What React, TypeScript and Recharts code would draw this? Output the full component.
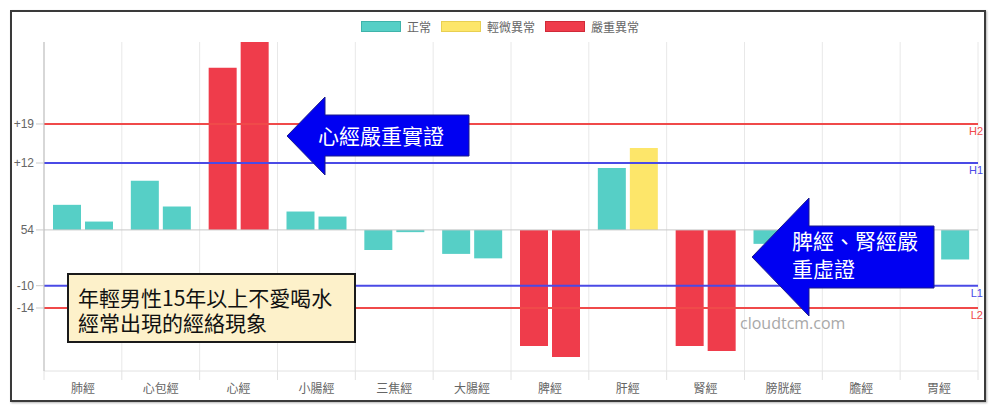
import { BarChart, Bar, XAxis, YAxis, CartesianGrid, ReferenceLine, Cell } from 'recharts'

// 十二經絡，每條經絡左右兩側數值（相對於平均值 54 的偏差）
const meridians = ['肺經', '心包經', '心經', '小腸經', '三焦經', '大腸經', '脾經', '肝經', '腎經', '膀胱經', '膽經', '胃經']
const leftValues = [4.5, 8.8, 29.1, 3.3, -3.6, -4.3, -20.8, 11.1, -20.8, -2.5, -3, 0]
const rightValues = [1.5, 4.2, 33.7, 2.4, -0.4, -5.1, -22.8, 14.7, -21.7, -2, -2, -5.3]
const leftStatus = ['normal', 'normal', 'severe', 'normal', 'normal', 'normal', 'severe', 'normal', 'severe', 'normal', 'normal', 'normal']
const rightStatus = ['normal', 'normal', 'severe', 'normal', 'normal', 'normal', 'severe', 'mild', 'severe', 'normal', 'normal', 'normal']

const yTicks = [19, 12, 0, -10, -14]
const yTickLabels = ['+19', '+12', '54', '-10', '-14']

const limitValues = [19, 12, -10, -14]
const limitNames = ['H2', 'H1', 'L1', 'L2']
const limitKinds = ['severe', 'mild', 'mild', 'severe']

const legendKeys = ['normal', 'mild', 'severe']
const legendNames = ['正常', '輕微異常', '嚴重異常']

const statusColors: Record<string, string> = {
  normal: '#56cfc6',
  mild: '#fde66a',
  severe: '#ef3c4b',
}
const legendBorders: Record<string, string> = {
  normal: '#3fb3aa',
  mild: '#e8cf52',
  severe: '#d02a38',
}
const limitColors: Record<string, string> = {
  severe: '#f04a4a',
  mild: '#4a4ae6',
}

const data = meridians.map((name, i) => ({
  name,
  left: leftValues[i],
  right: rightValues[i],
}))

const CJK = '"Noto Sans CJK TC", "Liberation Sans", sans-serif'

function MeridianTick(props: any) {
  const { x, y, payload, index } = props
  const half = payload?.offset ?? 0
  const axisY = y - 13
  return (
    <g>
      <line x1={x - half} x2={x - half} y1={axisY} y2={axisY + 9} stroke="#e2e2e2" />
      {index === meridians.length - 1 && (
        <line x1={x + half} x2={x + half} y1={axisY} y2={axisY + 9} stroke="#e2e2e2" />
      )}
      <text x={x} y={y} dy="0.71em" textAnchor="middle" fontSize={12} fill="#666" fontFamily={CJK}>
        {payload.value}
      </text>
    </g>
  )
}

function limitLabel(name: string, color: string) {
  return (props: any) => {
    const vb = props.viewBox || {}
    return (
      <text
        x={vb.x + vb.width + 5}
        y={vb.y + 11}
        textAnchor="end"
        fontSize={11}
        fill={color}
        fontFamily='"Liberation Sans", sans-serif'
      >
        {name}
      </text>
    )
  }
}

export default function App() {
  return (
    <div style={{ position: 'absolute', left: 0, top: 0, width: 1000, height: 417, background: '#fff', fontFamily: CJK }}>
      <div
        style={{
          position: 'absolute',
          left: 10,
          top: 10,
          width: 976,
          height: 392,
          border: '2px solid #3a3a3a',
          boxSizing: 'border-box',
          boxShadow: '1px 1px 2px rgba(0,0,0,0.3)',
        }}
      />

      <div style={{ position: 'absolute', left: 0, top: 0 }}>
        <BarChart
          width={1000}
          height={417}
          data={data}
          margin={{ top: 42, right: 22, bottom: 16, left: 10 }}
          barGap={4}
        >
          <CartesianGrid
            horizontal={false}
            stroke="#e8e8e8"
            verticalCoordinatesGenerator={({ offset }: any) =>
              meridians.map((_, i) => offset.left + (i * offset.width) / meridians.length).concat(offset.left + offset.width)
            }
          />
          <XAxis
            dataKey="name"
            height={30}
            interval={0}
            axisLine={{ stroke: '#e2e2e2' }}
            tickLine={false}
            tickSize={6}
            tickMargin={7}
            tick={<MeridianTick />}
          />
          <YAxis
            width={34}
            domain={[-25.3, 33.7]}
            allowDataOverflow
            ticks={yTicks}
            interval={0}
            tickFormatter={(v: number) => yTickLabels[yTicks.indexOf(v)] ?? String(v)}
            tick={{ fontSize: 12, fill: '#666', fontFamily: '"Liberation Sans", sans-serif' }}
            axisLine={{ stroke: '#bbb' }}
            tickLine={{ stroke: '#ccc' }}
            tickSize={8}
            tickMargin={2}
          />
          <ReferenceLine y={0} stroke="#c8c8c8" />
          <Bar dataKey="left" barSize={28} isAnimationActive={false}>
            {data.map((d, i) => (
              <Cell key={d.name} fill={statusColors[leftStatus[i]]} />
            ))}
          </Bar>
          <Bar dataKey="right" barSize={28} isAnimationActive={false}>
            {data.map((d, i) => (
              <Cell key={d.name} fill={statusColors[rightStatus[i]]} />
            ))}
          </Bar>
          {limitValues.map((v, i) => (
            <ReferenceLine
              key={limitNames[i]}
              y={v}
              stroke={limitColors[limitKinds[i]]}
              strokeWidth={2}
              label={limitLabel(limitNames[i], limitColors[limitKinds[i]])}
            />
          ))}
        </BarChart>
      </div>

      {/* legend */}
      <div
        style={{
          position: 'absolute',
          left: 0,
          top: 21,
          width: 1000,
          height: 11,
          display: 'flex',
          justifyContent: 'center',
          alignItems: 'center',
          fontSize: 12,
          color: '#666',
        }}
      >
        {legendKeys.map((k, i) => (
          <div key={k} style={{ display: 'flex', alignItems: 'center', marginRight: i < legendKeys.length - 1 ? 10 : 0 }}>
            <span
              style={{
                display: 'inline-block',
                width: 40,
                height: 11,
                boxSizing: 'border-box',
                background: statusColors[k],
                border: `1px solid ${legendBorders[k]}`,
              }}
            />
            <span style={{ marginLeft: 6, lineHeight: '12px' }}>{legendNames[i]}</span>
          </div>
        ))}
      </div>

      {/* annotations */}
      <svg width={1000} height={417} style={{ position: 'absolute', left: 0, top: 0, pointerEvents: 'none' }}>
        <polygon
          points="287,136 325,97 325,115 469,115 469,156 325,156 325,175"
          fill="#0000f2"
          stroke="#1b1b8c"
          strokeWidth={1}
        />
        <text x={318} y={135} dominantBaseline="central" fontSize={21} fill="#fff" fontFamily={CJK}>
          心經嚴重實證
        </text>
        <polygon
          points="752,257 809,198 809,226 934,226 934,288 809,288 809,316"
          fill="#0000f2"
          stroke="#1b1b8c"
          strokeWidth={1}
        />
        <text x={792} y={240} dominantBaseline="central" fontSize={21} fill="#fff" fontFamily={CJK}>
          脾經、腎經嚴
        </text>
        <text x={792} y={268} dominantBaseline="central" fontSize={21} fill="#fff" fontFamily={CJK}>
          重虛證
        </text>
        <text x={740} y={323} dominantBaseline="central" fontSize={16} fill="#a8a8a8" fontFamily='"Open Sans", sans-serif'>
          cloudtcm.com
        </text>
      </svg>

      <div
        style={{
          position: 'absolute',
          left: 67,
          top: 273,
          width: 289,
          height: 70,
          boxSizing: 'border-box',
          border: '2px solid #1a1a1a',
          background: '#fdf1ca',
          padding: '10px 0 0 9px',
          fontSize: 21,
          lineHeight: '25px',
          color: '#111',
          whiteSpace: 'nowrap',
        }}
      >
        年輕男性15年以上不愛喝水
        <br />
        經常出現的經絡現象
      </div>
    </div>
  )
}
